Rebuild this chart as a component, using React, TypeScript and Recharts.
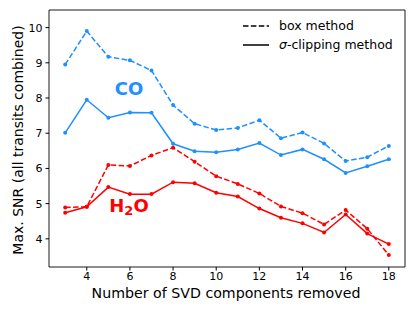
import React from "react";
import {
  LineChart, Line, XAxis, YAxis, ReferenceArea
} from "recharts";

if (typeof document !== "undefined") document.body.style.margin = "0";

const components = [3, 4, 5, 6, 7, 8, 9, 10, 11, 12, 13, 14, 15, 16, 17, 18];
const coBox = [8.95, 9.9, 9.17, 9.07, 8.78, 7.8, 7.27, 7.09, 7.15, 7.37, 6.86, 7.02, 6.71, 6.21, 6.32, 6.64];
const coSigma = [7.01, 7.95, 7.44, 7.59, 7.58, 6.7, 6.49, 6.46, 6.54, 6.72, 6.38, 6.54, 6.26, 5.87, 6.06, 6.26];
const h2oBox = [4.89, 4.91, 6.1, 6.07, 6.37, 6.59, 6.19, 5.78, 5.56, 5.29, 4.92, 4.73, 4.41, 4.82, 4.29, 3.54];
const h2oSigma = [4.74, 4.91, 5.47, 5.27, 5.27, 5.61, 5.58, 5.31, 5.2, 4.86, 4.6, 4.44, 4.18, 4.69, 4.15, 3.85];

const xTicks = [4, 6, 8, 10, 12, 14, 16, 18];
const yTicks = [4, 5, 6, 7, 8, 9, 10];

const BLUE = "#1e90ff";
const RED = "#ff0000";
const FONT = "'DejaVu Sans', sans-serif";

const rows = components.map((n, i) => ({
  n,
  coBox: coBox[i],
  coSigma: coSigma[i],
  h2oBox: h2oBox[i],
  h2oSigma: h2oSigma[i],
}));

const tickStyle = { fontSize: 11, fill: "#000", fontFamily: FONT };

export default function App() {
  return (
    <div style={{ position: "relative", width: 415, height: 311, background: "#fff", fontFamily: FONT }}>
      <LineChart width={415} height={311} data={rows} margin={{ top: 10, right: 10, bottom: 0, left: 0 }}>
        <XAxis
          dataKey="n"
          type="number"
          domain={[2.25, 18.75]}
          ticks={xTicks}
          allowDataOverflow
          height={44}
          tick={tickStyle}
          tickSize={3.5}
          tickMargin={2}
          stroke="#000"
          axisLine={false}
        />
        <YAxis
          type="number"
          domain={[3.2, 10.5]}
          ticks={yTicks}
          allowDataOverflow
          width={49}
          tick={tickStyle}
          tickSize={3.5}
          tickMargin={3}
          stroke="#000"
          axisLine={false}
        />
        <ReferenceArea x1={2.25} x2={18.75} y1={3.2} y2={10.5} fill="none" stroke="#000" strokeWidth={0.9} ifOverflow="visible" />
        <Line dataKey="coBox" stroke={BLUE} strokeWidth={1.5} strokeDasharray="5.5 2.4" dot={{ r: 2, fill: BLUE, stroke: BLUE, strokeWidth: 0 }} isAnimationActive={false} />
        <Line dataKey="coSigma" stroke={BLUE} strokeWidth={1.5} dot={{ r: 2, fill: BLUE, stroke: BLUE, strokeWidth: 0 }} isAnimationActive={false} />
        <Line dataKey="h2oBox" stroke={RED} strokeWidth={1.5} strokeDasharray="5.5 2.4" dot={{ r: 2, fill: RED, stroke: RED, strokeWidth: 0 }} isAnimationActive={false} />
        <Line dataKey="h2oSigma" stroke={RED} strokeWidth={1.5} dot={{ r: 2, fill: RED, stroke: RED, strokeWidth: 0 }} isAnimationActive={false} />
      </LineChart>

      {/* molecule labels */}
      <div style={{ position: "absolute", left: 129, top: 89, transform: "translate(-50%, -50%)", color: BLUE, fontWeight: "bold", fontSize: 18, lineHeight: 1 }}>
        CO
      </div>
      <div style={{ position: "absolute", left: 129, top: 207, transform: "translate(-50%, -50%)", color: RED, fontWeight: "bold", fontSize: 18, lineHeight: 1, whiteSpace: "nowrap" }}>
        H<sub style={{ fontSize: 13, verticalAlign: "-3px" }}>2</sub>O
      </div>

      {/* legend */}
      <div style={{ position: "absolute", left: 243, top: 17, fontSize: 12.5, lineHeight: "18.5px" }}>
        <div style={{ display: "flex", alignItems: "center" }}>
          <svg width={26} height={4} style={{ marginRight: 10 }}>
            <line x1={0} y1={2} x2={26} y2={2} stroke="#000" strokeWidth={1.5} strokeDasharray="5.5 2.4" />
          </svg>
          <span>box method</span>
        </div>
        <div style={{ display: "flex", alignItems: "center" }}>
          <svg width={26} height={4} style={{ marginRight: 10 }}>
            <line x1={0} y1={2} x2={26} y2={2} stroke="#000" strokeWidth={1.5} />
          </svg>
          <span><i>σ</i>-clipping method</span>
        </div>
      </div>

      {/* axis titles */}
      <div style={{ position: "absolute", left: 226, top: 293, transform: "translate(-50%, -50%)", fontSize: 14.2, whiteSpace: "nowrap", lineHeight: 1 }}>
        Number of SVD components removed
      </div>
      <div style={{ position: "absolute", left: 18, top: 140, transform: "translate(-50%, -50%) rotate(-90deg)", fontSize: 14, whiteSpace: "nowrap", lineHeight: 1 }}>
        Max. SNR (all transits combined)
      </div>
    </div>
  );
}
